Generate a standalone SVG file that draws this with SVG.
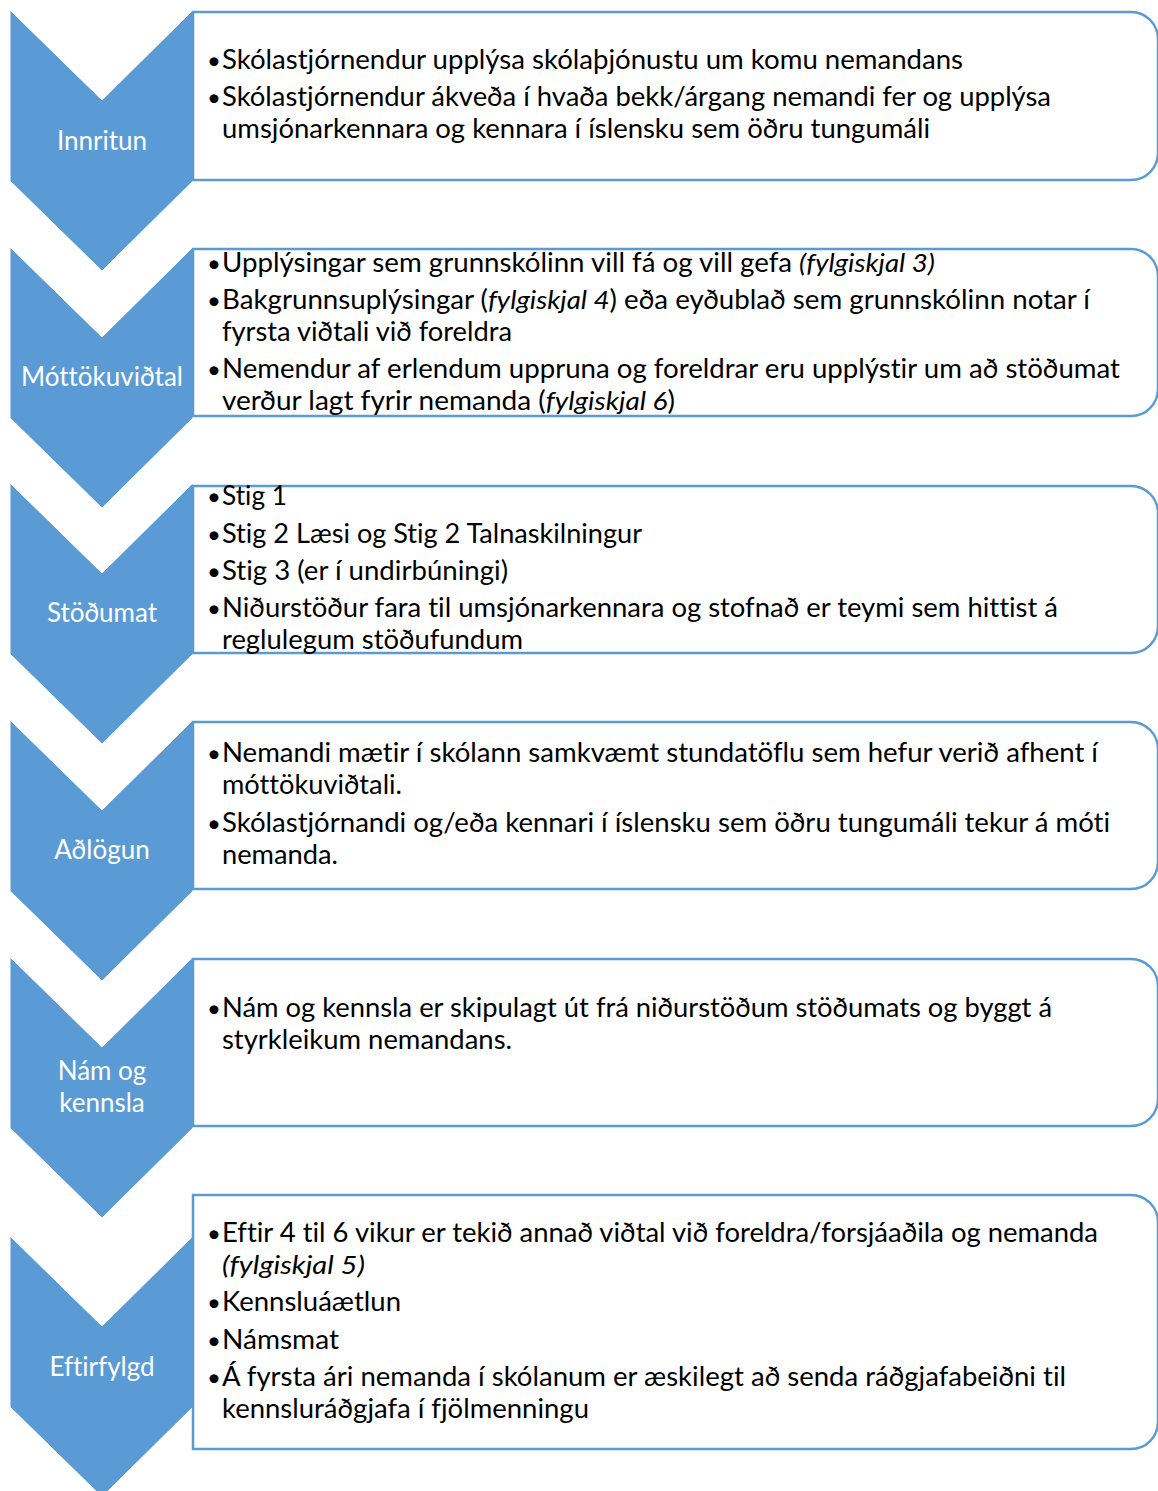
<svg xmlns="http://www.w3.org/2000/svg" width="1158" height="1491" viewBox="0 0 1158 1491">
<style>
.chev{fill:#5B9BD5;stroke:#ffffff;stroke-width:1}
.box{fill:#ffffff;stroke:#5B9BD5;stroke-width:2.5}
.lbl{font-family:Lato,"Open Sans","Liberation Sans",sans-serif;font-size:26px;fill:#ffffff;text-anchor:middle;font-variant-ligatures:none}
.t{font-family:Lato,"Open Sans","Liberation Sans",sans-serif;font-size:26px;fill:#000000;font-variant-ligatures:none}
.b{font-family:Lato,"Open Sans","Liberation Sans",sans-serif;font-size:24px;fill:#000000}
.i{font-style:italic}
</style>
<rect width="1158" height="1491" fill="#ffffff"/>
<g id="connectors"></g>

<g id="step1">
<polygon class="chev" points="10,10 102,100 193,10 193,181 102,271 10,181"/>
<text class="lbl" x="102" y="150">Innritun</text>
<path class="box" d="M193,12 H1131 A27,27 0 0 1 1158,39 V153 A27,27 0 0 1 1131,180 H193 Z"/>
<text class="b" x="207" y="69">•</text><text class="t" x="222" y="69" textLength="741" lengthAdjust="spacingAndGlyphs">Skólastjórnendur upplýsa skólaþjónustu um komu nemandans</text>
<text class="b" x="207" y="106">•</text><text class="t" x="222" y="106" textLength="829" lengthAdjust="spacingAndGlyphs">Skólastjórnendur ákveða í hvaða bekk/árgang nemandi fer og upplýsa</text>
<text class="t" x="222" y="138" textLength="708" lengthAdjust="spacingAndGlyphs">umsjónarkennara og kennara í íslensku sem öðru tungumáli</text>
</g>

<g id="step2">
<polygon class="chev" points="10,247 102,337 193,247 193,418 102,508 10,418"/>
<text class="lbl" x="102" y="386">Móttökuviðtal</text>
<path class="box" d="M193,249 H1131 A27,27 0 0 1 1158,276 V389 A27,27 0 0 1 1131,416 H193 Z"/>
<text class="b" x="207" y="272">•</text><text class="t" x="222" y="272" textLength="713" lengthAdjust="spacingAndGlyphs">Upplýsingar sem grunnskólinn vill fá og vill gefa <tspan class="i">(fylgiskjal 3)</tspan></text>
<text class="b" x="207" y="309">•</text><text class="t" x="222" y="309" textLength="868" lengthAdjust="spacingAndGlyphs">Bakgrunnsuplýsingar (<tspan class="i">fylgiskjal 4</tspan>) eða eyðublað sem grunnskólinn notar í</text>
<text class="t" x="222" y="341" textLength="290" lengthAdjust="spacingAndGlyphs">fyrsta viðtali við foreldra</text>
<text class="b" x="207" y="378">•</text><text class="t" x="222" y="378" textLength="898" lengthAdjust="spacingAndGlyphs">Nemendur af erlendum uppruna og foreldrar eru upplýstir um að stöðumat</text>
<text class="t" x="222" y="410" textLength="453" lengthAdjust="spacingAndGlyphs">verður lagt fyrir nemanda (<tspan class="i">fylgiskjal 6</tspan>)</text>
</g>

<g id="step3">
<polygon class="chev" points="10,483 102,573 193,483 193,654 102,744 10,654"/>
<text class="lbl" x="102" y="622">Stöðumat</text>
<path class="box" d="M193,486 H1131 A27,27 0 0 1 1158,513 V626 A27,27 0 0 1 1131,653 H193 Z"/>
<text class="b" x="207" y="505">•</text><text class="t" x="222" y="505" textLength="65" lengthAdjust="spacingAndGlyphs">Stig 1</text>
<text class="b" x="207" y="543">•</text><text class="t" x="222" y="543" textLength="420" lengthAdjust="spacingAndGlyphs">Stig 2 Læsi og Stig 2 Talnaskilningur</text>
<text class="b" x="207" y="580">•</text><text class="t" x="222" y="580" textLength="286" lengthAdjust="spacingAndGlyphs">Stig 3 (er í undirbúningi)</text>
<text class="b" x="207" y="617">•</text><text class="t" x="222" y="617" textLength="836" lengthAdjust="spacingAndGlyphs">Niðurstöður fara til umsjónarkennara og stofnað er teymi sem hittist á</text>
<text class="t" x="222" y="649" textLength="301" lengthAdjust="spacingAndGlyphs">reglulegum stöðufundum</text>
</g>

<g id="step4">
<polygon class="chev" points="10,720 102,810 193,720 193,891 102,981 10,891"/>
<text class="lbl" x="102" y="859">Aðlögun</text>
<path class="box" d="M193,722 H1131 A27,27 0 0 1 1158,749 V862 A27,27 0 0 1 1131,889 H193 Z"/>
<text class="b" x="207" y="762">•</text><text class="t" x="222" y="762" textLength="876" lengthAdjust="spacingAndGlyphs">Nemandi mætir í skólann samkvæmt stundatöflu sem hefur verið afhent í</text>
<text class="t" x="222" y="794" textLength="180" lengthAdjust="spacingAndGlyphs">móttökuviðtali.</text>
<text class="b" x="207" y="832">•</text><text class="t" x="222" y="832" textLength="888" lengthAdjust="spacingAndGlyphs">Skólastjórnandi og/eða kennari í íslensku sem öðru tungumáli tekur á móti</text>
<text class="t" x="222" y="864" textLength="116" lengthAdjust="spacingAndGlyphs">nemanda.</text>
</g>

<g id="step5">
<polygon class="chev" points="10,957 102,1047 193,957 193,1128 102,1218 10,1128"/>
<text class="lbl" x="102" y="1080">Nám og</text>
<text class="lbl" x="102" y="1112">kennsla</text>
<path class="box" d="M193,959 H1131 A27,27 0 0 1 1158,986 V1099 A27,27 0 0 1 1131,1126 H193 Z"/>
<text class="b" x="207" y="1017">•</text><text class="t" x="222" y="1017" textLength="830" lengthAdjust="spacingAndGlyphs">Nám og kennsla er skipulagt út frá niðurstöðum stöðumats og byggt á</text>
<text class="t" x="222" y="1049" textLength="290" lengthAdjust="spacingAndGlyphs">styrkleikum nemandans.</text>
</g>

<g id="step6">
<polygon class="chev" points="10,1236 102,1326 193,1236 193,1407 102,1497 10,1407"/>
<text class="lbl" x="102" y="1376">Eftirfylgd</text>
<path class="box" d="M193,1195 H1131 A27,27 0 0 1 1158,1222 V1422 A27,27 0 0 1 1131,1449 H193 Z"/>
<text class="b" x="207" y="1242">•</text><text class="t" x="222" y="1242" textLength="876" lengthAdjust="spacingAndGlyphs">Eftir 4 til 6 vikur er tekið annað viðtal við foreldra/forsjáaðila og nemanda</text>
<text class="t i" x="222" y="1274" textLength="143" lengthAdjust="spacingAndGlyphs">(fylgiskjal 5)</text>
<text class="b" x="207" y="1311">•</text><text class="t" x="222" y="1311" textLength="179" lengthAdjust="spacingAndGlyphs">Kennsluáætlun</text>
<text class="b" x="207" y="1349">•</text><text class="t" x="222" y="1349" textLength="117" lengthAdjust="spacingAndGlyphs">Námsmat</text>
<text class="b" x="207" y="1386">•</text><text class="t" x="222" y="1386" textLength="844" lengthAdjust="spacingAndGlyphs">Á fyrsta ári nemanda í skólanum er æskilegt að senda ráðgjafabeiðni til</text>
<text class="t" x="222" y="1418" textLength="367" lengthAdjust="spacingAndGlyphs">kennsluráðgjafa í fjölmenningu</text>
</g>
</svg>
